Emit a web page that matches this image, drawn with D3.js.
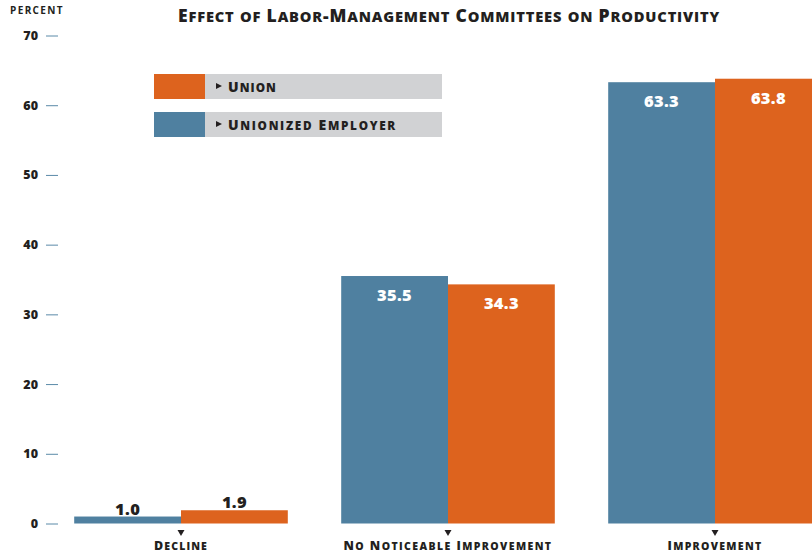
<!DOCTYPE html>
<html><head><meta charset="utf-8">
<script src="https://cdn.jsdelivr.net/npm/d3@7"></script>
<style>
html,body{margin:0;padding:0;background:#fff;}
svg text{font-family:"Open Sans","DejaVu Sans",sans-serif;font-weight:700;}
</style></head>
<body><svg id="chart" width="812" height="553"></svg>
<script>
const categories = ["Decline", "No Noticeable Improvement", "Improvement"];
const seriesNames = ["Unionized Employer", "Union"];
const unionizedEmployer = [1.0, 35.5, 63.3];
const union = [1.9, 34.3, 63.8];
const yTicks = [0, 10, 20, 30, 40, 50, 60, 70];
const legendOrder = ["Union", "Unionized Employer"];
const colors = {"Unionized Employer": "#4f80a0", "Union": "#dd631e"};
const title = "Effect of Labor-Management Committees on Productivity";
const yLabel = "percent";

const svg = d3.select("#chart");
const y = d3.scaleLinear().domain([0, 70]).range([523.5, 35.5]);
const x0 = d3.scaleBand().domain(categories).range([47.5, 848.5]).paddingInner(0.2).paddingOuter(0.1);
const x1 = d3.scaleBand().domain(seriesNames).range([0, x0.bandwidth()]);

// manual small caps: uppercase letters at full size, lowercase as smaller capitals
function smallCaps(sel, str, size, ratio, targetWidth) {
  sel.style("font-size", size + "px").style("font-weight", 800);
  const runs = [];
  for (const ch of str) {
    const small = ch !== ch.toUpperCase();
    const last = runs[runs.length - 1];
    if (last && last.small === small) last.t += ch; else runs.push({small, t: ch});
  }
  runs.forEach(r => sel.append("tspan").style("font-size", (r.small ? size * ratio : size) + "px").text(r.t.toUpperCase()));
  if (targetWidth) {
    const n = str.length;
    const len = sel.node().getComputedTextLength();
    sel.style("letter-spacing", ((targetWidth - len) / n) + "px");
  }
  return sel;
}

// y axis
const yAxis = d3.axisLeft(y).tickValues(yTicks).tickSize(12).tickPadding(8).tickFormat(d3.format("d"));
const ga = svg.append("g").attr("transform", "translate(58,0)").call(yAxis);
ga.select(".domain").remove();
ga.selectAll(".tick line").attr("stroke", "#5a8aa8").attr("stroke-width", 1);
ga.selectAll(".tick text").attr("fill", "#231f20").style("font-size", "12.5px").style("font-family", "'Open Sans',sans-serif").style("font-weight", 800);

const pl = svg.append("text").attr("x", 10).attr("y", 14).attr("fill", "#231f20").style("font-size", "10px").text(yLabel.toUpperCase());
{ const len = pl.node().getComputedTextLength(); pl.style("letter-spacing", ((54 - len) / 7) + "px"); }

// title
const tt = svg.append("text").attr("x", 178).attr("y", 22).attr("fill", "#231f20");
smallCaps(tt, title, 17.5, 0.84, 542);

// bars
const data = categories.map((c, i) => ({cat: c, vals: [
  {s: "Unionized Employer", v: unionizedEmployer[i]},
  {s: "Union", v: union[i]}]}));

const g = svg.selectAll(".cat").data(data).join("g").attr("transform", d => `translate(${x0(d.cat)},0)`);
g.selectAll("rect").data(d => d.vals).join("rect")
  .attr("x", d => x1(d.s)).attr("width", x1.bandwidth())
  .attr("y", d => y(d.v)).attr("height", d => y(0) - y(d.v))
  .attr("fill", d => colors[d.s]);

g.selectAll(".val").data(d => d.vals).join("text")
  .attr("x", d => x1(d.s) + x1.bandwidth() / 2)
  .attr("y", d => d.v > 10 ? y(d.v) + 25 : y(d.v) - 2)
  .attr("text-anchor", "middle")
  .attr("fill", d => d.v > 10 ? "#ffffff" : "#231f20")
  .style("font-size", "16.5px")
  .style("font-weight", 800)
  .style("letter-spacing", "0.3px")
  .text(d => d3.format(".1f")(d.v));

// category markers and labels
const cx = d => x0(d) + x0.bandwidth() / 2;
svg.selectAll(".tri").data(categories).join("path")
  .attr("d", d => `M${cx(d) - 3.5},530 L${cx(d) + 3.5},530 L${cx(d)},536 Z`)
  .attr("fill", "#231f20");
const catW = {"Decline": 54, "No Noticeable Improvement": 209, "Improvement": 95};
svg.selectAll(".clab").data(categories).join("text")
  .attr("x", cx).attr("y", 550).attr("text-anchor", "middle").attr("fill", "#231f20")
  .each(function(d) { smallCaps(d3.select(this), d, 12.5, 0.84, catW[d]); });

// legend
const legW = {"Union": 49, "Unionized Employer": 169};
const lg = svg.selectAll(".leg").data(legendOrder).join("g")
  .attr("transform", (d, i) => `translate(154,${74 + i * 38})`);
lg.append("rect").attr("x", 51).attr("width", 237).attr("height", 25).attr("fill", "#d1d2d4");
lg.append("rect").attr("width", 51).attr("height", 25).attr("fill", d => colors[d]);
lg.append("path").attr("d", "M62,9 L62,15 L68,12 Z").attr("fill", "#231f20");
lg.append("text").attr("x", 74).attr("y", 18).attr("fill", "#231f20")
  .each(function(d) { smallCaps(d3.select(this), d, 14, 0.84, legW[d]); });
</script></body></html>
